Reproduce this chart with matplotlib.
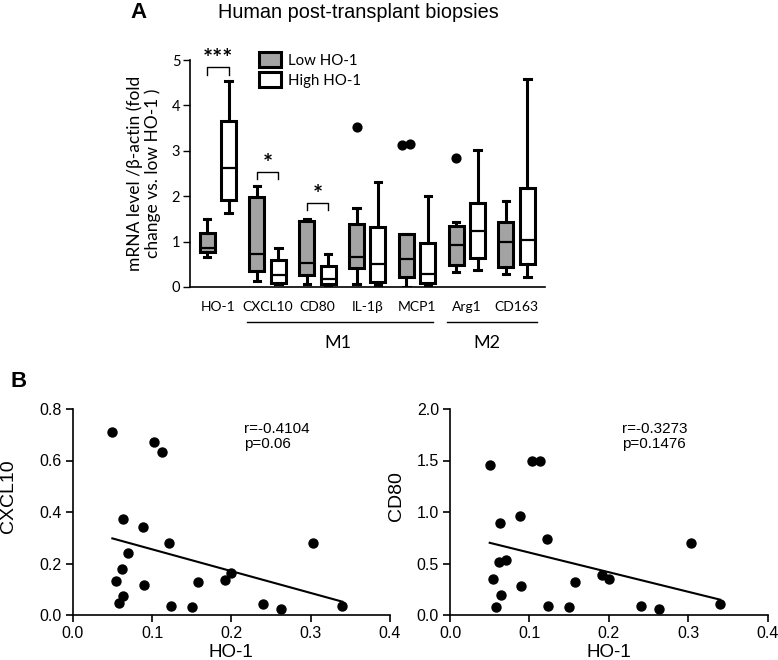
import numpy as np
import matplotlib
matplotlib.use("Agg")
import matplotlib.pyplot as plt
from matplotlib.patches import Patch

# ---- panel A: box plot summaries ----
genes = ["HO-1", "CXCL10", "CD80", "IL-1β", "MCP1", "Arg1", "CD163"]

low_wlo = [0.65, 0.14, 0.06, 0.06, 0.00, 0.32, 0.28]
low_q1 = [0.77, 0.35, 0.26, 0.42, 0.21, 0.48, 0.45]
low_med = [0.87, 0.73, 0.53, 0.65, 0.61, 0.93, 0.99]
low_q3 = [1.20, 1.98, 1.45, 1.39, 1.17, 1.35, 1.43]
low_whi = [1.50, 2.22, 1.49, 1.75, 1.17, 1.44, 1.89]
# outliers of the low group: (gene index, value)
low_out_idx = [3, 4, 4, 5]
low_out_val = [3.53, 3.12, 3.16, 2.84]

high_wlo = [1.63, 0.06, 0.04, 0.04, 0.02, 0.37, 0.21]
high_q1 = [1.91, 0.08, 0.06, 0.11, 0.08, 0.63, 0.50]
high_med = [2.63, 0.26, 0.18, 0.51, 0.28, 1.24, 1.04]
high_q3 = [3.66, 0.59, 0.46, 1.32, 0.98, 1.84, 2.19]
high_whi = [4.54, 0.87, 0.73, 2.31, 2.01, 3.02, 4.58]

sig_pairs = [0, 1, 2]
sig_marks = ["***", "*", "*"]
sig_height = [4.85, 2.54, 1.86]

# ---- panel B: scatter data ----
ho1 = [0.050, 0.103, 0.113, 0.063, 0.088, 0.122, 0.070, 0.062, 0.054, 0.090,
       0.064, 0.058, 0.124, 0.150, 0.158, 0.192, 0.200, 0.240, 0.263, 0.303, 0.340]
cxcl10 = [0.709, 0.673, 0.633, 0.372, 0.342, 0.278, 0.239, 0.178, 0.131, 0.117,
          0.075, 0.048, 0.036, 0.031, 0.127, 0.137, 0.165, 0.042, 0.025, 0.281, 0.035]
cd80 = [1.455, 1.498, 1.498, 0.898, 0.966, 0.736, 0.538, 0.519, 0.350, 0.279,
        0.194, 0.081, 0.084, 0.081, 0.318, 0.392, 0.347, 0.084, 0.062, 0.703, 0.104]

calibri = ["Lato", "DejaVu Sans"]
arial = ["Liberation Sans", "DejaVu Sans"]
GRAY = "#a3a3a3"

fig = plt.figure(figsize=(7.78, 6.6), dpi=100)

# ---------------- panel A ----------------
axA = fig.add_axes([190 / 778, 1 - 287 / 660, 355 / 778, 227 / 660])
pos = np.arange(len(genes))
off = 0.215
w = 0.30


def stats(wlo, q1, med, q3, whi):
    return [dict(whislo=a, q1=b, med=c, q3=d, whishi=e, fliers=[])
            for a, b, c, d, e in zip(wlo, q1, med, q3, whi)]


common = dict(widths=w, patch_artist=True, showfliers=False,
              whiskerprops=dict(color="black", lw=2.2),
              capprops=dict(color="black", lw=2.2),
              medianprops=dict(color="black", lw=1.6))

bl = axA.bxp(stats(low_wlo, low_q1, low_med, low_q3, low_whi),
             positions=pos - off, **common)
bh = axA.bxp(stats(high_wlo, high_q1, high_med, high_q3, high_whi),
             positions=pos + off, **common)
for b in bl["boxes"]:
    b.set_facecolor(GRAY)
    b.set_edgecolor("black")
    b.set_linewidth(2.2)
for b in bh["boxes"]:
    b.set_facecolor("white")
    b.set_edgecolor("black")
    b.set_linewidth(2.2)
for c in bl["caps"] + bh["caps"]:
    m = np.mean(c.get_xdata())
    c.set_xdata([m - 0.065, m + 0.065])

# outliers; the two MCP1 dots sit side by side
dx = [0, -0.08, 0.08, 0]
axA.scatter(np.array(low_out_idx) - off + np.array(dx), low_out_val, s=40,
            color="black", zorder=4, clip_on=False)

# significance brackets
for i, mark, h in zip(sig_pairs, sig_marks, sig_height):
    x0, x1 = i - off, i + off
    axA.plot([x0, x0, x1, x1], [h - 0.17, h, h, h - 0.17], color="black",
             lw=1.0, clip_on=False)
    axA.text(i, h - 0.1, mark, ha="center", va="bottom", fontsize=17,
             fontweight="bold", family=calibri, clip_on=False)

axA.set_xlim(-0.56, 6.57)
axA.set_ylim(0, 5)
axA.set_yticks([0, 1, 2, 3, 4, 5])
axA.set_xticks(pos)
axA.set_xticklabels(genes)
axA.tick_params(axis="x", length=0, pad=10)
axA.tick_params(axis="y", length=5, width=1, pad=2)
for lab in axA.get_xticklabels():
    lab.set_family(calibri)
    lab.set_fontsize(10)
for lab in axA.get_yticklabels():
    lab.set_family(calibri)
    lab.set_fontsize(10.5)
axA.spines["top"].set_visible(False)
axA.spines["right"].set_visible(False)
axA.spines["left"].set_linewidth(1.2)
axA.spines["bottom"].set_linewidth(1.2)
axA.set_ylabel("mRNA level /β-actin (fold\nchange vs. low HO-1 )",
               family=calibri, fontsize=12.5, linespacing=1.1, labelpad=8)

# group lines M1 / M2
tr = axA.get_xaxis_transform()
axA.plot([0.58, 4.32], [-0.155, -0.155], color="black", lw=1, transform=tr,
         clip_on=False)
axA.plot([4.6, 6.4], [-0.155, -0.155], color="black", lw=1, transform=tr,
         clip_on=False)
axA.text(2.4, -0.245, "M1", transform=tr, ha="center", va="center",
         fontsize=13, family=calibri)
axA.text(5.4, -0.245, "M2", transform=tr, ha="center", va="center",
         fontsize=13, family=calibri)

# legend
axA.legend(handles=[Patch(facecolor=GRAY, edgecolor="black", lw=2.2, label="Low HO-1"),
                    Patch(facecolor="white", edgecolor="black", lw=2.2, label="High HO-1")],
           loc="upper left", bbox_to_anchor=(0.194, 1.035), frameon=False,
           borderpad=0, borderaxespad=0,
           handlelength=1.45, handleheight=1.15, handletextpad=0.5,
           labelspacing=0.3, prop=dict(family=calibri, size=10.8))

fig.text(130 / 778, 1 - 12 / 660, "A", fontsize=16, fontweight="bold",
         family=arial, va="center")
fig.text(218 / 778, 1 - 12 / 660, "Human post-transplant biopsies",
         fontsize=14.3, family=arial, va="center", ha="left")

# ---------------- panel B ----------------
fig.text(10 / 778, 1 - 382 / 660, "B", fontsize=16, fontweight="bold",
         family=arial, va="center")


def scatter_panel(rect, yvals, ylim, yticks, ylabel, ylab_x, rtext):
    ax = fig.add_axes(rect)
    ax.scatter(ho1, yvals, s=42, color="black", zorder=3)
    k, b = np.polyfit(ho1, yvals, 1)
    xs = np.array([min(ho1), max(ho1)])
    ax.plot(xs, k * xs + b, color="black", lw=1.5)
    ax.set_xlim(0, 0.4)
    ax.set_ylim(*ylim)
    ax.set_xticks([0.0, 0.1, 0.2, 0.3, 0.4])
    ax.set_xticklabels(["0.0", "0.1", "0.2", "0.3", "0.4"])
    ax.set_yticks(yticks)
    ax.set_yticklabels(["{:.1f}".format(v) for v in yticks])
    ax.spines["top"].set_visible(False)
    ax.spines["right"].set_visible(False)
    ax.spines["left"].set_linewidth(1.2)
    ax.spines["bottom"].set_linewidth(1.2)
    ax.tick_params(length=5, width=1.2, pad=3)
    for lab in ax.get_xticklabels() + ax.get_yticklabels():
        lab.set_family(arial)
        lab.set_fontsize(11.5)
    ax.set_xlabel("HO-1", family=arial, fontsize=13.5, labelpad=2)
    ax.set_ylabel(ylabel, family=arial, fontsize=14)
    ax.yaxis.set_label_coords(ylab_x, 0.575)
    ax.text(0.54, 0.866, rtext, transform=ax.transAxes, family=arial,
            fontsize=11, linespacing=1.15, va="center")
    return ax


scatter_panel([72.7 / 778, 1 - 615 / 660, 317.3 / 778, 206 / 660], cxcl10,
              (0, 0.8), [0.0, 0.2, 0.4, 0.6, 0.8], "CXCL10", -0.176,
              "r=-0.4104\np=0.06")
scatter_panel([450 / 778, 1 - 615 / 660, 317.7 / 778, 206 / 660], cd80,
              (0, 2.0), [0.0, 0.5, 1.0, 1.5, 2.0], "CD80", -0.142,
              "r=-0.3273\np=0.1476")

fig.savefig("out.png", dpi=100)
